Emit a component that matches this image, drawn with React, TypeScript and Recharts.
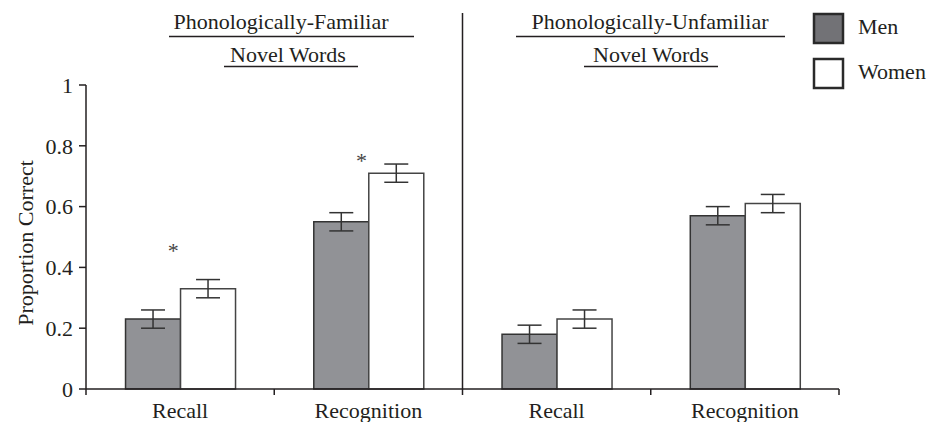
import React from 'react';
import { BarChart, Bar, XAxis, YAxis, ErrorBar, ReferenceDot } from 'recharts';

const categoryKeys = ['fam-recall', 'fam-recognition', 'unf-recall', 'unf-recognition'];
const categoryLabels = ['Recall', 'Recognition', 'Recall', 'Recognition'];
const menValues = [0.23, 0.55, 0.18, 0.57];
const womenValues = [0.33, 0.71, 0.23, 0.61];
const menErrors = [0.03, 0.03, 0.03, 0.03];
const womenErrors = [0.03, 0.03, 0.03, 0.03];
const starValues = [0.47, 0.765, null, null];
const yTicks = [0, 0.2, 0.4, 0.6, 0.8, 1];
const groupTitles = ['Phonologically-Familiar', 'Phonologically-Unfamiliar'];
const groupSubtitle = 'Novel Words';
const seriesNames = ['Men', 'Women'];

const data = categoryKeys.map((k, i) => ({
  key: k,
  label: categoryLabels[i],
  men: menValues[i],
  women: womenValues[i],
  menErr: menErrors[i],
  womenErr: womenErrors[i],
}));

const FONT = '"Liberation Serif", "Times New Roman", serif';
const INK = '#231f20';
const MEN_FILL = '#919296';
const W = 936;
const H = 422;
const PLOT_LEFT = 86;
const PLOT_RIGHT = 839;
const PLOT_BOTTOM = 389;
const FS = 22;
const ASC = 18.4; // baseline offset from top for a 22px line box

const textStyle = { fontFamily: FONT };

const XTick = (props: any) => {
  const { x, payload, index } = props;
  const half = payload && payload.offset ? payload.offset : (PLOT_RIGHT - PLOT_LEFT) / 8;
  const i = typeof index === 'number' ? index : categoryKeys.indexOf(payload.value);
  return (
    <g>
      <line x1={x - half} x2={x - half} y1={PLOT_BOTTOM} y2={PLOT_BOTTOM + 6} stroke={INK} strokeWidth={1.5} />
      {i === categoryKeys.length - 1 && (
        <line x1={x + half} x2={x + half} y1={PLOT_BOTTOM} y2={PLOT_BOTTOM + 6} stroke={INK} strokeWidth={1.5} />
      )}
      {i === 2 && (
        <line x1={x - half} x2={x - half} y1={13} y2={PLOT_BOTTOM} stroke={INK} strokeWidth={1.5} />
      )}
      <text x={x} y={418} textAnchor="middle" style={textStyle} fontSize={FS} fill={INK}>
        {categoryLabels[i]}
      </text>
    </g>
  );
};

const YTick = (props: any) => {
  const { x, y, payload } = props;
  return (
    <text x={x} y={y} dy="0.355em" textAnchor="end" style={textStyle} fontSize={FS} fill={INK}>
      {String(payload.value)}
    </text>
  );
};

const Star = (props: any) => {
  const { cx, cy } = props;
  return (
    <text x={cx - 7} y={cy + 12} textAnchor="middle" style={textStyle} fontSize={FS} fill="#444">
      *
    </text>
  );
};

const HText = ({ cx, left, baseline, children, width = 400 }: any) => {
  const l = cx !== undefined ? cx - width / 2 : left;
  return (
    <div
      style={{
        position: 'absolute',
        left: l,
        top: baseline - ASC,
        width,
        height: FS,
        lineHeight: FS + 'px',
        fontSize: FS,
        fontFamily: FONT,
        color: INK,
        textAlign: cx !== undefined ? 'center' : 'left',
        whiteSpace: 'nowrap',
      }}
    >
      {children}
    </div>
  );
};

export default function App() {
  return (
    <div style={{ position: 'absolute', left: 0, top: 0, width: W, height: H, background: '#fff', fontFamily: FONT }}>
      <BarChart
        width={W}
        height={H}
        data={data}
        margin={{ top: 85, right: W - PLOT_RIGHT, bottom: 3, left: 26 }}
        barCategoryGap="21%"
        barGap={0}
      >
        <XAxis
          dataKey="key"
          type="category"
          height={30}
          axisLine={{ stroke: INK, strokeWidth: 1.5 }}
          tickLine={false}
          tick={<XTick />}
          interval={0}
        />
        <YAxis
          width={60}
          domain={[0, 1]}
          ticks={yTicks}
          axisLine={{ stroke: INK, strokeWidth: 1.5 }}
          tickLine={{ stroke: INK, strokeWidth: 1.5 }}
          tickSize={7}
          tickMargin={6}
          tick={<YTick />}
        />
        <Bar dataKey="men" name={seriesNames[0]} fill={MEN_FILL} stroke="#333" strokeWidth={1.5} isAnimationActive={false}>
          <ErrorBar dataKey="menErr" width={12} stroke="#333" strokeWidth={1.5} />
        </Bar>
        <Bar dataKey="women" name={seriesNames[1]} fill="#fff" stroke="#444" strokeWidth={1.5} isAnimationActive={false}>
          <ErrorBar dataKey="womenErr" width={12} stroke="#333" strokeWidth={1.5} />
        </Bar>
        {starValues.map((v, i) =>
          v === null ? null : (
            <ReferenceDot key={i} x={categoryKeys[i]} y={v} r={0} shape={<Star />} ifOverflow="visible" />
          )
        )}
      </BarChart>
      <svg width={W} height={H} style={{ position: 'absolute', left: 0, top: 0, pointerEvents: 'none' }}>
        <line x1={169} x2={414} y1={36.5} y2={36.5} stroke={INK} strokeWidth={1.5} />
        <line x1={224} x2={358} y1={66.5} y2={66.5} stroke={INK} strokeWidth={1.5} />
        <line x1={516} x2={785} y1={36.5} y2={36.5} stroke={INK} strokeWidth={1.5} />
        <line x1={584} x2={718} y1={66.5} y2={66.5} stroke={INK} strokeWidth={1.5} />
        <rect x={814} y={14} width={29} height={29} fill="#727276" stroke="#2a2a2a" strokeWidth={2.5} />
        <rect x={814} y={59} width={29} height={29} fill="#fff" stroke="#2a2a2a" strokeWidth={2.5} />
      </svg>
      <HText cx={281} baseline={29}>{groupTitles[0]}</HText>
      <HText cx={288} baseline={62}>{groupSubtitle}</HText>
      <HText cx={650} baseline={29}>{groupTitles[1]}</HText>
      <HText cx={651} baseline={62}>{groupSubtitle}</HText>
      <HText left={858} baseline={34} width={80}>{seriesNames[0]}</HText>
      <HText left={858} baseline={79} width={80}>{seriesNames[1]}</HText>
      <div
        style={{
          position: 'absolute',
          left: 25.6 - 110,
          top: 243 - FS / 2,
          width: 220,
          height: FS,
          lineHeight: FS + 'px',
          fontSize: FS,
          fontFamily: FONT,
          color: INK,
          textAlign: 'center',
          whiteSpace: 'nowrap',
          transform: 'rotate(-90deg)',
        }}
      >
        Proportion Correct
      </div>
    </div>
  );
}
